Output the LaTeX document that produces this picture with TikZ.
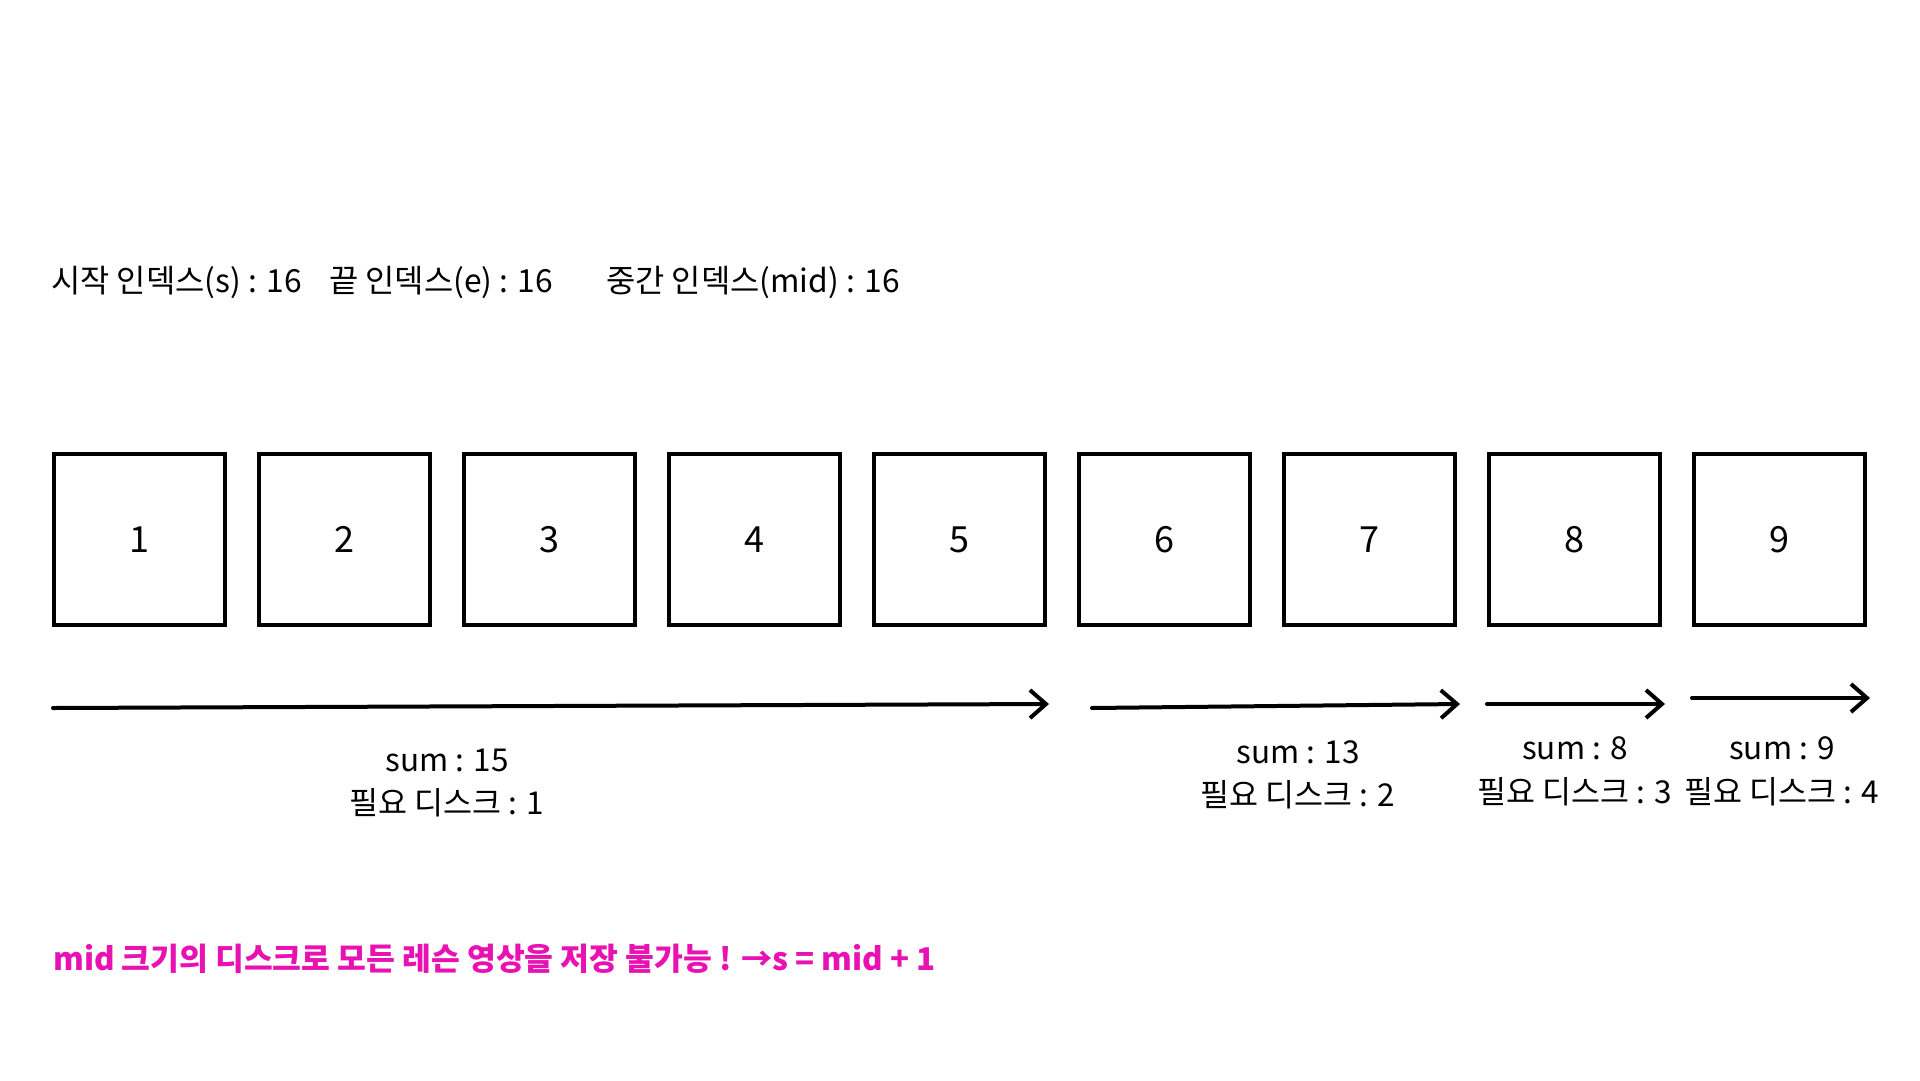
\documentclass[tikz,border=0pt]{standalone}
\usepackage{fontspec}
\setmainfont{Noto Sans CJK KR}
\usetikzlibrary{arrows.meta}
\definecolor{pinkc}{RGB}{232,18,178}
\tikzset{
  cell/.style={draw=black, line width=4pt, minimum size=171pt, inner sep=0pt,
    font=\fontsize{36}{42}\selectfont},
  hdr/.style={inner sep=0pt, font=\fontsize{31.8}{38}\selectfont},
  lbl/.style={inner sep=0pt, font=\fontsize{31.5}{36}\selectfont},
  flow/.style={line width=4pt, line cap=round, line join=round,
    -{Straight Barb[length=16pt,width=28pt,line width=4pt]}},
  note/.style={inner sep=0pt, text=pinkc, font=\fontsize{31.3}{36}\selectfont\bfseries}
}
\begin{document}
\begin{tikzpicture}[x=1pt,y=-1pt]
\useasboundingbox[fill=white] (0,0) rectangle (1920,1080);
% header
\node[hdr, anchor=base west] (hs) at (51,292) {시작 인덱스(s) : 16};
\node[hdr, anchor=base west] (he) at (329,292) {끝 인덱스(e) : 16};
\node[hdr, anchor=base west] (hm) at (606,292) {중간 인덱스(mid) : 16};
% cells
\foreach \i in {1,...,9} {
  \node[cell] (c\i) at ({139.5+205*(\i-1)},539.5) {\i};
}
% arrows
\coordinate (a1s) at (53,708);  \coordinate (a1e) at (1049,704);
\coordinate (a2s) at (1092,708); \coordinate (a2e) at (1460,704);
\coordinate (a3s) at (1487,704); \coordinate (a3e) at (1665,704);
\coordinate (a4s) at (1692,698); \coordinate (a4e) at (1870,698);
\draw[flow] (a1s) -- (a1e);
\draw[flow] (a2s) -- (a2e);
\draw[flow] (a3s) -- (a3e);
\draw[flow] (a4s) -- (a4e);
% labels
\node[lbl] (s1) at (447,760) {sum : 15};
\node[lbl] (d1) at (447,803) {필요 디스크 : 1};
\node[lbl] (s2) at (1298,752) {sum : 13};
\node[lbl] (d2) at (1298,795) {필요 디스크 : 2};
\node[lbl] (s3) at (1575,748) {sum : 8};
\node[lbl] (d3) at (1575,792) {필요 디스크 : 3};
\node[lbl] (s4) at (1782,748) {sum : 9};
\node[lbl] (d4) at (1782,792) {필요 디스크 : 4};
% note
\node[note, anchor=west] (nt) at (53,959) {mid 크기의 디스크로 모든 레슨 영상을 저장 불가능 ! →s =  mid + 1};
\end{tikzpicture}
\end{document}
